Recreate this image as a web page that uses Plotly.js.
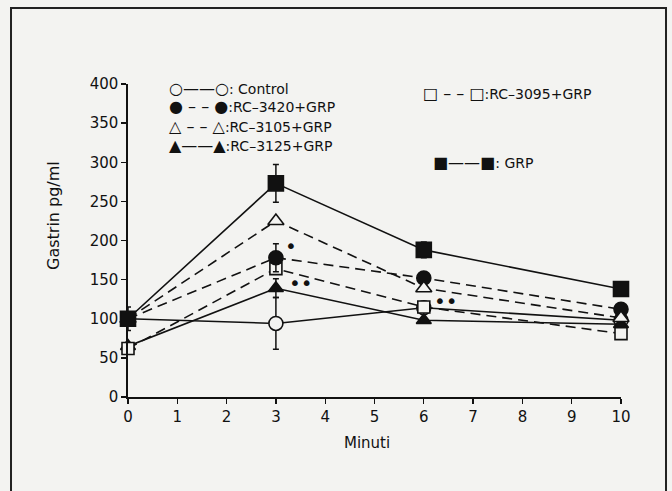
<!DOCTYPE html>
<html><head><meta charset="utf-8">
<script src="https://cdn.plot.ly/plotly-3.0.1.min.js"></script>
<style>html,body{margin:0;padding:0;background:#f3f3f1;}</style>
</head><body>
<div id="chart" style="width:672px;height:491px;"></div>
<script>
const minutes = [0, 3, 6, 10];
const control = [100, 94, 114, 98];
const rc3420 = [100, 178, 152, 112];
const rc3105 = [100, 225, 139, 101];
const rc3125 = [65, 139, 98, 93];
const rc3095 = [62, 164, 115, 81];
const grp = [100, 273, 188, 138];
const errControl = [0, 33, 0, 0];
const errRc3420 = [0, 18, 0, 0];
const errRc3125 = [0, 12, 0, 0];
const errGrp = [15, 24, 10, 9];
const yTicks = [0, 50, 100, 150, 200, 250, 300, 350, 400];
const xTicks = [0, 1, 2, 3, 4, 5, 6, 7, 8, 9, 10];
const starX = [3.3, 3.5, 6.45, 10.35];
const starY = [193, 146, 123, 82];
const starText = ['•', '••', '••', '•'];

const BG = '#f3f3f1';
const FONT = 'DejaVu Sans, sans-serif';

function tr(y, dash, symbol, filled, size, err) {
  const t = {
    x: minutes, y: y, type: 'scatter', mode: 'lines+markers', cliponaxis: false,
    line: {color: '#111', width: 1.6, dash: dash},
    marker: {symbol: symbol, size: size, color: filled ? '#111' : BG, line: {color: '#111', width: 1.6}},
    showlegend: false
  };
  if (err) t.error_y = {type: 'data', array: err, visible: true, color: '#111', thickness: 1.5, width: 3};
  return t;
}
const DASH = '10px,6px';
const data = [
  tr(control, 'solid', 'circle', false, 14, errControl),
  tr(rc3125, 'solid', 'triangle-up', true, 13, errRc3125),
  tr(rc3095, DASH, 'square', false, 12, null),
  tr(rc3420, DASH, 'circle', true, 14, errRc3420),
  tr(rc3105, DASH, 'triangle-up', false, 14, null),
  tr(grp, 'solid', 'square', true, 15, errGrp)
];

const annotations = [];
for (let i = 0; i < starX.length; i++) {
  annotations.push({x: starX[i], y: starY[i], xref: 'x', yref: 'y', text: starText[i], showarrow: false,
    font: {family: FONT, size: 20, color: '#111'}});
}
function sym(s) { return '<span style="font-size:16px">' + s + '</span>'; }
const legendRows = [
  [sym('○——○') + ': Control', 168, 88],
  [sym('● – – ●') + ':RC–3420+GRP', 168, 107],
  [sym('△ – – △') + ':RC–3105+GRP', 168, 126],
  [sym('▲——▲') + ':RC–3125+GRP', 168, 145],
  [sym('□ – – □') + ':RC–3095+GRP', 422, 93],
  [sym('■——■') + ': GRP', 432, 162]
];
legendRows.forEach(r => {
  annotations.push({x: (r[1] - 128) / 493, y: (397 - r[2]) / 313, xref: 'paper', yref: 'paper',
    xanchor: 'left', yanchor: 'middle', text: r[0], showarrow: false, borderpad: 0,
    font: {family: FONT, size: 14, color: '#111'}});
});
annotations.push({x: (53 - 128) / 493, y: (397 - 216) / 313, xref: 'paper', yref: 'paper',
  text: 'Gastrin pg/ml', textangle: -90, showarrow: false, xanchor: 'center', yanchor: 'middle',
  font: {family: FONT, size: 16, color: '#111'}});
annotations.push({x: (367 - 128) / 493, y: (397 - 443) / 313, xref: 'paper', yref: 'paper',
  text: 'Minuti', showarrow: false, xanchor: 'center', yanchor: 'middle',
  font: {family: FONT, size: 15, color: '#111'}});

const layout = {
  width: 672, height: 491,
  margin: {l: 128, r: 51, t: 84, b: 94},
  paper_bgcolor: BG, plot_bgcolor: BG,
  font: {family: FONT, color: '#111', size: 15},
  xaxis: {range: [0, 10], tickvals: xTicks, ticktext: xTicks.map(String), showgrid: false, zeroline: false,
    showline: true, linecolor: '#111', linewidth: 1.6, ticks: 'outside', ticklen: 5, tickwidth: 1.4, tickcolor: '#111',
    tickfont: {family: FONT, size: 15}},
  yaxis: {range: [0, 400], tickvals: yTicks, ticktext: yTicks.map(String), showgrid: false, zeroline: false,
    showline: true, linecolor: '#111', linewidth: 1.6, ticks: 'outside', ticklen: 5, tickwidth: 1.4, tickcolor: '#111',
    tickfont: {family: FONT, size: 15}},
  annotations: annotations,
  shapes: [{type: 'path', xref: 'paper', yref: 'paper',
    path: 'M -0.2373 -0.32 L -0.2373 1.2428 L 1.0913 1.2428 L 1.0913 -0.32',
    line: {color: '#222', width: 2}}]
};
Plotly.newPlot('chart', data, layout, {staticPlot: true});
</script>
</body></html>
